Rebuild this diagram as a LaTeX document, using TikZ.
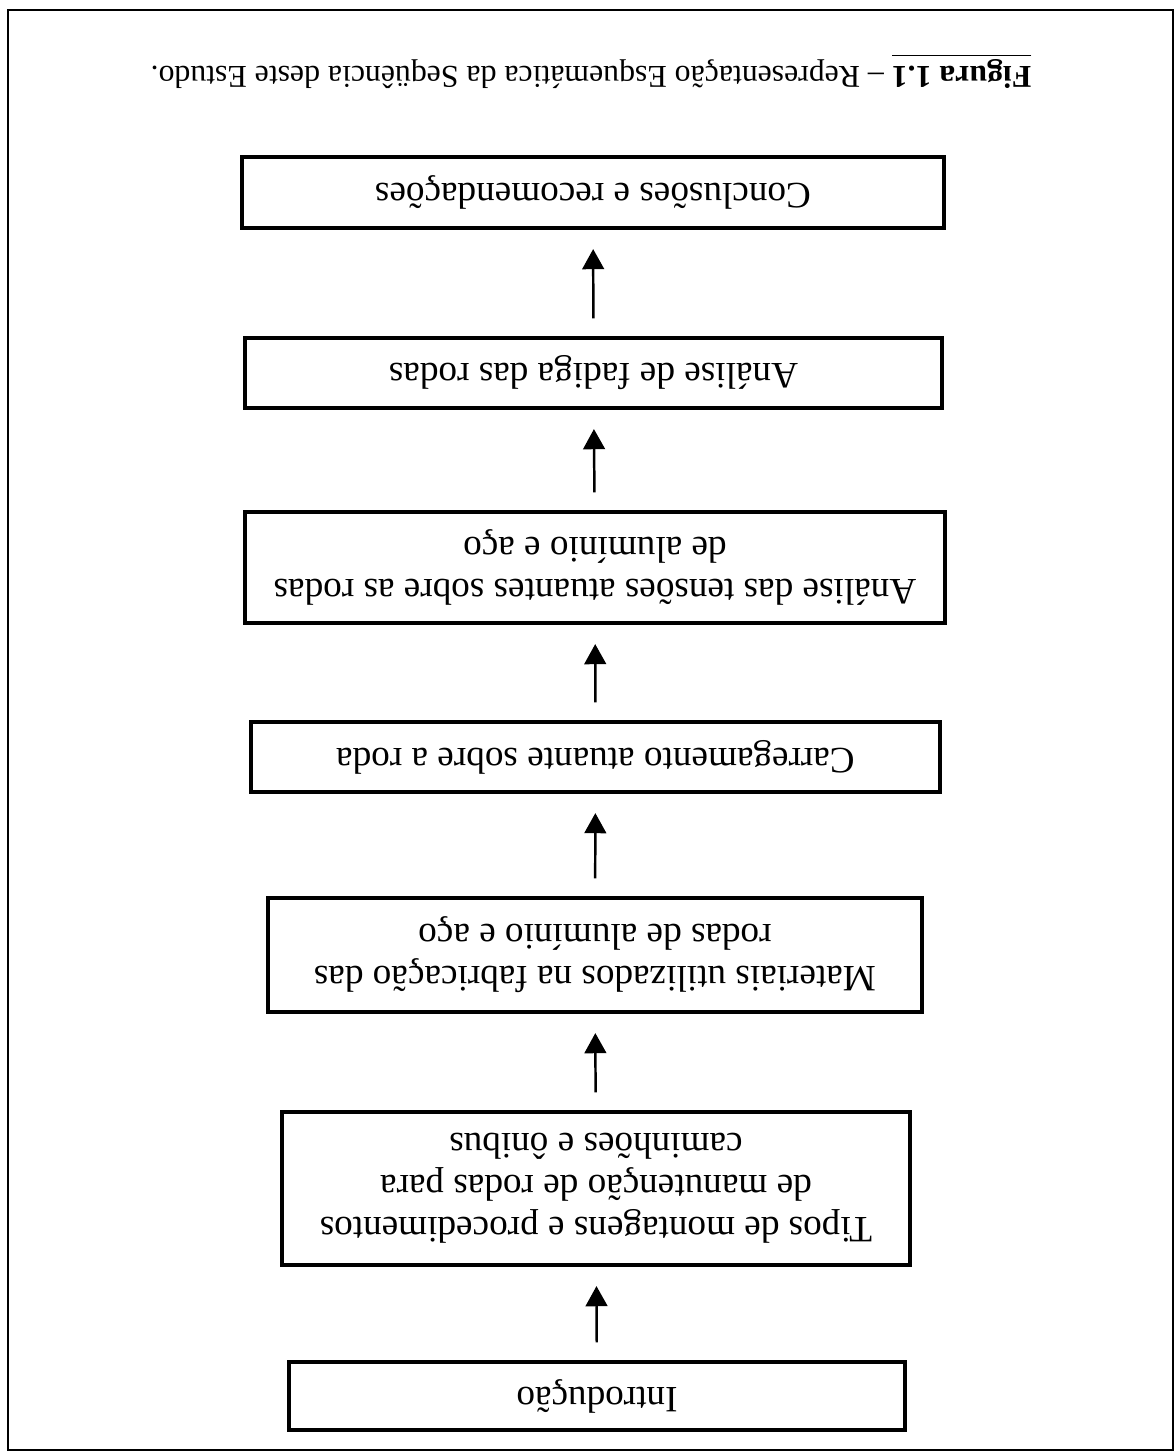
\documentclass[tikz,border=0pt]{standalone}
\usepackage{fontspec}
\setmainfont{Liberation Serif}
\usepackage{tikz}
\usetikzlibrary{arrows.meta}

\newcommand{\pxl}{0.3226pt}
\tikzset{
  etapa/.style={draw, line width=1pt, rotate=180, align=center, inner sep=0pt,
    font=\fontsize{12}{13.6}\selectfont},
  seta/.style={-{Triangle[length=6.5pt,width=7pt]}, line width=0.8pt,
    shorten <=5.8pt, shorten >=6.3pt}
}

\begin{document}
\begin{tikzpicture}[x=\pxl, y=-\pxl]
\useasboundingbox (0,0) rectangle (1176,1454);
\draw[line width=0.7pt] (8,10) rectangle (1173,1450);
%%%%%caption (page scanned upside down)
\node (legenda) at (591,71) [rotate=180, font=\fontsize{10.25}{12}\selectfont]
  {\underline{\textbf{Figura 1.1}} -- Representação Esquemática da Seqüência deste Estudo.};
%%%%%steps
\node (intro) at (597,1396) [etapa, minimum width=616*\pxl, minimum height=68*\pxl] {Introdução};
\node (tipos) at (596,1188.5) [etapa, minimum width=628*\pxl, minimum height=153*\pxl]
  {Tipos de montagens e procedimentos\\de manutenção de rodas para\\caminhões e ônibus};
\node (materiais) at (595,955) [etapa, minimum width=654*\pxl, minimum height=114*\pxl]
  {Materiais utilizados na fabricação das\\rodas de alumínio e aço};
\node (carga) at (595.5,757) [etapa, minimum width=689*\pxl, minimum height=70*\pxl]
  {Carregamento atuante sobre a roda};
\node (tensoes) at (595,567.5) [etapa, minimum width=700*\pxl, minimum height=111*\pxl]
  {Análise das tensões atuantes sobre as rodas\\de alumínio e aço};
\node (fadiga) at (593.5,373) [etapa, minimum width=697*\pxl, minimum height=70*\pxl]
  {Análise de fadiga das rodas};
\node (conclusoes) at (593,192.5) [etapa, minimum width=702*\pxl, minimum height=71*\pxl]
  {Conclusões e recomendações};
%%%%%arrows
\draw[seta] (intro) -- (tipos);
\draw[seta] (tipos) -- (materiais);
\draw[seta] (materiais) -- (carga);
\draw[seta] (carga) -- (tensoes);
\draw[seta] (tensoes) -- (fadiga);
\draw[seta] (fadiga) -- (conclusoes);
\end{tikzpicture}
\end{document}
